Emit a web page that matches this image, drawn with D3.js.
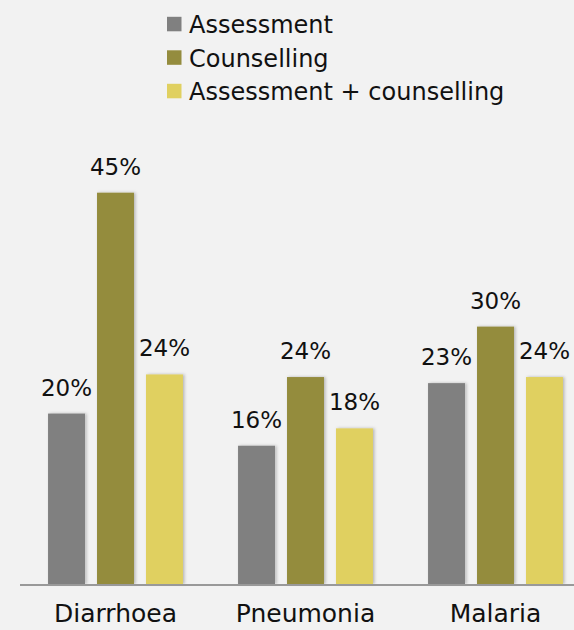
<!DOCTYPE html>
<html>
<head>
<meta charset="utf-8">
<script src="https://cdn.jsdelivr.net/npm/d3@7"></script>
<style>
  html, body { margin: 0; padding: 0; background: #f2f2f2; }
  svg { display: block; }
  text { font-family: "DejaVu Sans", sans-serif; fill: #111; }
</style>
</head>
<body>
<svg id="chart" width="574" height="630"></svg>
<script>
const categories = ["Diarrhoea", "Pneumonia", "Malaria"];
const seriesNames = ["Assessment", "Counselling", "Assessment + counselling"];
const assessment = [19.6, 15.9, 23.1];
const counselling = [45, 23.8, 29.6];
const assessmentCounselling = [24.1, 17.9, 23.8];
const seriesColors = ["#808080", "#948c3e", "#e0d060"];

const seriesValues = [assessment, counselling, assessmentCounselling];
const data = categories.map((c, i) => ({
  category: c,
  values: seriesNames.map((s, j) => ({ series: s, idx: j, value: seriesValues[j][i] }))
}));

const svg = d3.select("#chart");
const baseline = 584;

const x0 = d3.scaleBand().domain(categories).range([20.5, 590.5])
  .paddingInner(0.29).paddingOuter(0.145);
const x1 = d3.scaleBand().domain(seriesNames).range([0, x0.bandwidth()]).paddingInner(0.245);
const y = d3.scaleLinear().domain([0, 45]).range([baseline, 192.7]);
const color = d3.scaleOrdinal().domain(seriesNames).range(seriesColors);
const fmt = v => Math.round(v) + "%";

// shadow filter
const defs = svg.append("defs");
const f = defs.append("filter").attr("id", "shadow").attr("x", "-20%").attr("y", "-10%").attr("width", "160%").attr("height", "130%");
f.append("feDropShadow").attr("dx", 1.5).attr("dy", 0).attr("stdDeviation", 1.5)
  .attr("flood-color", "#000").attr("flood-opacity", 0.25);

const groups = svg.append("g").selectAll("g").data(data).join("g")
  .attr("transform", d => `translate(${x0(d.category)},0)`);

groups.selectAll("rect").data(d => d.values).join("rect")
  .attr("x", d => x1(d.series))
  .attr("y", d => y(d.value))
  .attr("width", x1.bandwidth())
  .attr("height", d => baseline - y(d.value))
  .attr("fill", d => color(d.series))
  .attr("filter", "url(#shadow)");

groups.selectAll("text.val").data(d => d.values).join("text")
  .attr("class", "val")
  .attr("x", d => x1(d.series) + x1.bandwidth() / 2)
  .attr("y", d => y(d.value) - 18)
  .attr("text-anchor", "middle")
  .attr("font-size", 23)
  .text(d => fmt(d.value));

// axis
const xAxis = d3.axisBottom(x0).tickSize(0).tickPadding(0);
const ax = svg.append("g").attr("transform", `translate(0,${baseline})`).call(xAxis);
ax.select(".domain").remove();
ax.selectAll("text").attr("font-size", 25).attr("dy", null).attr("y", 38)
  .style("font-family", "'DejaVu Sans', sans-serif").attr("fill", "#111");
svg.append("line").attr("x1", 20).attr("x2", 574).attr("y1", baseline + 1).attr("y2", baseline + 1)
  .attr("stroke", "#999").attr("stroke-width", 2);

// legend
const legend = svg.append("g").selectAll("g").data(seriesNames).join("g")
  .attr("transform", (d, i) => `translate(167,${33.3 + i * 33.5})`);
legend.append("rect").attr("x", 0).attr("y", -16.5).attr("width", 14.5).attr("height", 14.5)
  .attr("fill", d => color(d));
legend.append("text").attr("x", 22).attr("y", 0).attr("font-size", 24).text(d => d);
</script>
</body>
</html>
